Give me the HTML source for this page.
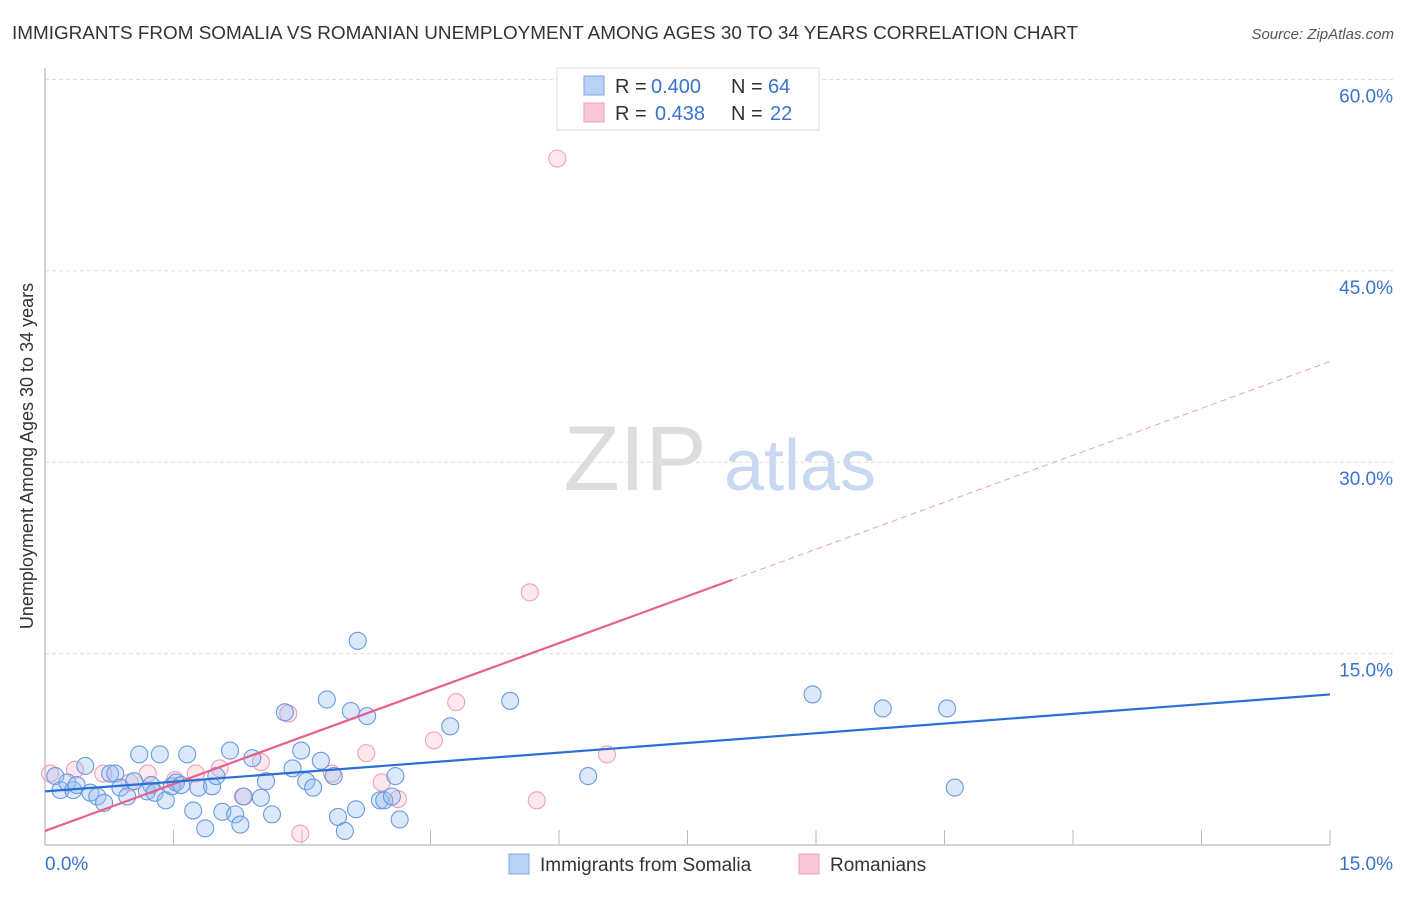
<!DOCTYPE html>
<html><head><meta charset="utf-8"><style>
body{margin:0;background:#fff;font-family:"Liberation Sans",sans-serif}
svg text{font-family:"Liberation Sans",sans-serif}
</style></head><body>
<svg id="c" width="1406" height="892" xmlns="http://www.w3.org/2000/svg">
<text x="12" y="39" font-size="18" fill="#333" textLength="1066" lengthAdjust="spacingAndGlyphs">IMMIGRANTS FROM SOMALIA VS ROMANIAN UNEMPLOYMENT AMONG AGES 30 TO 34 YEARS CORRELATION CHART</text>
<text x="1394" y="39" font-size="15" fill="#555" font-style="italic" text-anchor="end">Source: ZipAtlas.com</text>
<text x="33" y="456" font-size="18" fill="#333" text-anchor="middle" transform="rotate(-90 33 456)">Unemployment Among Ages 30 to 34 years</text>
<g><text x="635" y="490" font-size="92" fill="#ddd" font-family="Liberation Serif" text-anchor="middle">ZIP</text><text x="800" y="490" font-size="72" fill="#c8d8f0" text-anchor="middle">atlas</text></g>
<g id="grid"></g><g id="marks"></g>
<g>
<rect x="557" y="68" width="262" height="62" fill="#fff" stroke="#ddd"/>
<rect x="584" y="76" width="20" height="19" fill="#b8d2f4" stroke="#7aa8e8"/>
<rect x="584" y="103" width="20" height="19" fill="#f8c8d6" stroke="#f0a0b8"/>
<text x="615" y="93" font-size="20" fill="#333">R =</text>
<text x="651" y="93" font-size="20" fill="#3a72d0">0.400</text>
<text x="731" y="93" font-size="20" fill="#333">N =</text>
<text x="768" y="93" font-size="20" fill="#3a72d0">64</text>
<text x="615" y="120" font-size="20" fill="#333">R =</text>
<text x="655" y="120" font-size="20" fill="#3a72d0">0.438</text>
<text x="731" y="120" font-size="20" fill="#333">N =</text>
<text x="770" y="120" font-size="20" fill="#3a72d0">22</text>
</g>
<g>
<rect x="509" y="854" width="20" height="20" fill="#b8d2f4" stroke="#7aa8e8"/>
<text x="540" y="871" font-size="19" fill="#333">Immigrants from Somalia</text>
<rect x="799" y="854" width="20" height="20" fill="#f8c8d6" stroke="#f0a0b8"/>
<text x="830" y="871" font-size="19" fill="#333">Romanians</text>
</g>
</svg>
<script>
const yTicks=[15,30,45,60];
const yTickLabels=["15.0%","30.0%","45.0%","60.0%"];
const xTickLabels=["0.0%","15.0%"];
const somaliaX=[0.12,0.18,0.26,0.33,0.37,0.47,0.53,0.61,0.69,0.76,0.82,0.88,0.96,1.04,1.10,1.19,1.24,1.28,1.34,1.41,1.48,1.53,1.59,1.66,1.73,1.79,1.87,1.95,2.00,2.07,2.16,2.22,2.28,2.32,2.42,2.52,2.58,2.65,2.80,2.89,2.99,3.05,3.13,3.22,3.29,3.37,3.42,3.50,3.57,3.63,3.65,3.76,3.91,3.96,4.09,4.14,4.73,5.43,6.34,8.96,9.78,10.53,10.62,4.05];
const somaliaY=[5.4,4.3,4.9,4.3,4.7,6.2,4.1,3.8,3.3,5.6,5.6,4.5,3.8,5.0,7.1,4.2,4.7,4.1,7.1,3.5,4.6,4.9,4.7,7.1,2.7,4.5,1.3,4.6,5.4,2.6,7.4,2.4,1.6,3.8,6.8,3.7,5.0,2.4,10.4,6.0,7.4,5.0,4.5,6.6,11.4,5.4,2.2,1.1,10.5,2.8,16.0,10.1,3.5,3.5,5.4,2.0,9.3,11.3,5.4,11.8,10.7,10.7,4.5,3.8];
const romX=[0.06,0.35,0.68,0.99,1.20,1.52,1.76,2.04,2.31,2.52,2.84,2.98,3.35,3.75,3.93,4.12,4.54,4.80,5.66,5.74,5.98,6.56];
const romY=[5.6,5.9,5.6,4.9,5.6,5.1,5.6,6.0,3.8,6.5,10.3,0.9,5.6,7.2,4.9,3.6,8.2,11.2,19.8,3.5,53.8,7.1];
const somaliaTrend=[4.2,11.8];
const romTrend=[1.1,37.9];
const romSolidEnd=8.02;
const X=v=>45+v*(1285/15), Y=v=>845-v*12.76;
const NS="http://www.w3.org/2000/svg";
function mk(t,a,p){const e=document.createElementNS(NS,t);for(const k in a)e.setAttribute(k,a[k]);p.appendChild(e);return e;}
const g=document.getElementById('grid'), m=document.getElementById('marks');
yTicks.forEach((t,i)=>{
 const l=mk('line',{x1:45,x2:1394,y1:Y(t),y2:Y(t),stroke:'#ddd','stroke-dasharray':'4,3'},g);
 
 
 const tx=mk('text',{x:1393,y:Y(t)+23,'font-size':19,fill:'#3a72d0','text-anchor':'end'},g);tx.textContent=yTickLabels[i];
 
 
});
const ax=mk('line',{x1:45,x2:45,y1:68,y2:845,stroke:'#aaa'},g);


const bx=mk('line',{x1:45,x2:1330,y1:845,y2:845,stroke:'#aaa'},g);


for(let i=1;i<=10;i++){const t=mk('line',{x1:X(i*1.5),x2:X(i*1.5),y1:830,y2:845,stroke:'#bbb'},g);
 
 }
[[0,'start'],[15,'end']].forEach((p,i)=>{const t=mk('text',{x:i?1393:45,y:870,'font-size':19,fill:'#3a72d0','text-anchor':p[1]},g);t.textContent=xTickLabels[i];
 
 });
romX.forEach((x,i)=>{const c=mk('circle',{cx:X(x),cy:Y(romY[i]),r:8.5,fill:'rgba(248,180,200,0.3)',stroke:'#f0a0b8','stroke-width':1.1},m);
 
 });
somaliaX.forEach((x,i)=>{const c=mk('circle',{cx:X(x),cy:Y(somaliaY[i]),r:8.5,fill:'rgba(150,190,240,0.35)',stroke:'#6a9ae0','stroke-width':1.1},m);
 
 });
const rAt=v=>romTrend[0]+(romTrend[1]-romTrend[0])*v/15;
const r1=mk('line',{x1:X(0),y1:Y(rAt(0)),x2:X(romSolidEnd),y2:Y(rAt(romSolidEnd)),stroke:'#e8608a','stroke-width':2.2},m);


const r2=mk('line',{x1:X(romSolidEnd),y1:Y(rAt(romSolidEnd)),x2:X(15),y2:Y(rAt(15)),stroke:'#e8a0b8','stroke-width':1,'stroke-dasharray':'6,4'},m);


const s1=mk('line',{x1:X(0),y1:Y(somaliaTrend[0]),x2:X(15),y2:Y(somaliaTrend[1]),stroke:'#2a6fd6','stroke-width':2.2},m);


</script>
</body></html>
